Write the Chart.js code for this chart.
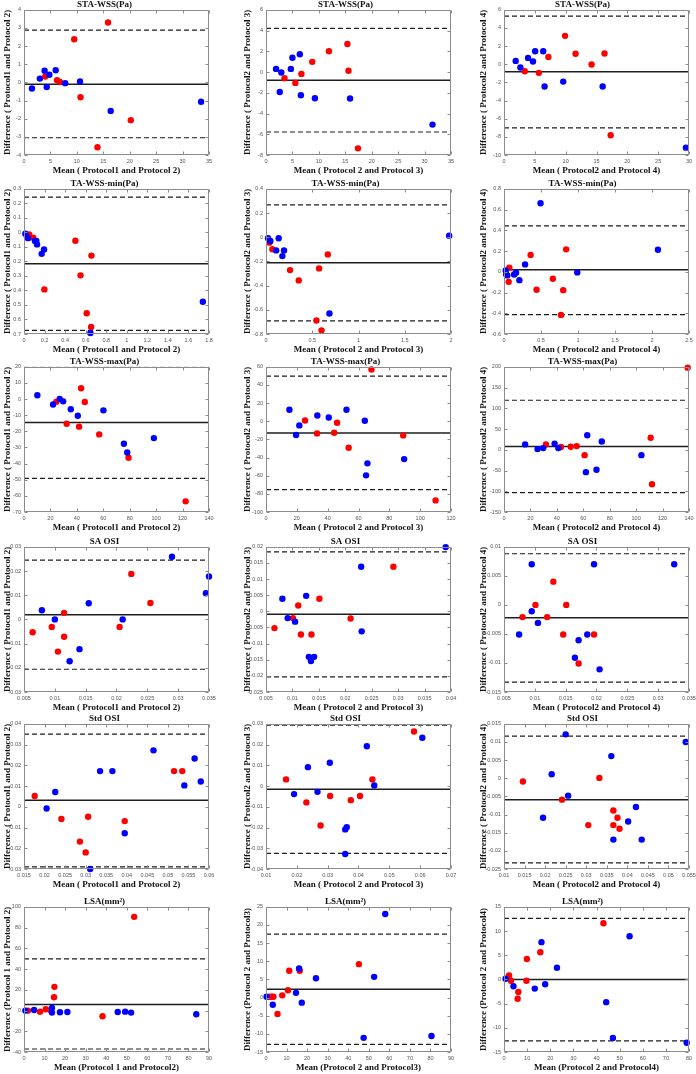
<!DOCTYPE html>
<html>
<head>
<meta charset="utf-8">
<script src="https://cdn.jsdelivr.net/npm/chart.js@4.4.0/dist/chart.umd.min.js"></script>
<style>
  html, body { margin: 0; padding: 0; background: #fff; overflow: hidden; }
  #page { position: relative; width: 696px; height: 1074px; overflow: hidden; }
  #page canvas { position: absolute; }
</style>
</head>
<body>
<div id="page"></div>
<script>
// Bland-Altman panels, row by row; columns: P1 vs P2, P2 vs P3, P2 vs P4
const rowTitles = ['STA-WSS(Pa)', 'TA-WSS-min(Pa)', 'TA-WSS-max(Pa)', 'SA OSI', 'Std OSI', 'LSA(mm²)'];

const yTitles = ['Difference ( Protocol1 and Protocol 2)', 'Difference ( Protocol2 and Protocol 3)', 'Difference ( Protocol2 and Protocol 4)'];
const xTitles = ['Mean ( Protocol1 and Protocol 2)', 'Mean ( Protocol 2 and Protocol 3)', 'Mean ( Protocol2 and Protocol 4)'];
const yTitlesLsa = ['Difference (Protocol 1 and Protocol 2)', 'Difference (Protocol 2 and Protocol3)', 'Difference (Protocol 2 and Protocol4)'];
const xTitlesLsa = ['Mean (Protocol 1 and Protocol2)', 'Mean (Protocol 2 and Protocol3)', 'Mean (Protocol 2 and Protocol4)'];

// STA-WSS
const sta12Blue = [[1.5,-0.34],[3.0,0.21],[3.9,0.64],[4.3,-0.25],[4.8,0.42],[6.0,0.67],[7.8,-0.04],[10.6,0.05],[16.4,-1.57],[33.5,-1.07]];
const sta12Red = [[4.0,0.32],[6.25,0.12],[6.8,0.03],[9.5,2.38],[10.7,-0.82],[15.9,3.30],[13.9,-3.57],[20.2,-2.08]];
const sta23Blue = [[1.9,0.3],[2.9,-0.05],[2.6,-1.92],[4.7,0.3],[5.0,1.37],[6.4,1.72],[6.6,-2.24],[9.25,-2.53],[15.9,-2.55],[31.5,-5.07]];
const sta23Red = [[3.5,-0.6],[5.56,-1.05],[6.7,-0.18],[8.75,0.98],[11.9,2.0],[15.4,2.7],[15.6,0.12],[17.4,-7.36]];
const sta24Blue = [[1.9,0.37],[2.66,-0.36],[3.9,0.7],[4.7,0.3],[5.05,1.44],[6.36,1.44],[6.58,-2.46],[9.6,-1.91],[16.0,-2.46],[29.5,-9.19]];
const sta24Red = [[3.37,-0.77],[5.65,-0.95],[7.2,0.81],[9.9,3.13],[11.6,1.15],[14.2,-0.03],[16.3,1.18],[17.3,-7.83]];

// TA-WSS-min
const min12Blue = [[0.013,-0.009],[0.03,-0.033],[0.04,-0.04],[0.107,-0.06],[0.12,-0.06],[0.127,-0.083],[0.172,-0.148],[0.195,-0.118],[0.646,-0.693],[1.74,-0.478]];
const min12Red = [[0.05,-0.014],[0.09,-0.037],[0.198,-0.393],[0.5,-0.058],[0.55,-0.296],[0.61,-0.557],[0.653,-0.651],[0.656,-0.16]];
const min23Blue = [[0.022,-0.009],[0.047,-0.031],[0.11,-0.109],[0.137,-0.009],[0.177,-0.156],[0.195,-0.109],[0.686,-0.631],[1.98,0.013]];
const min23Red = [[0.036,-0.045],[0.069,-0.1],[0.26,-0.272],[0.354,-0.357],[0.574,-0.258],[0.545,-0.689],[0.6,-0.77],[0.668,-0.142]];
const min24Blue = [[0.023,0.013],[0.03,-0.026],[0.045,-0.035],[0.136,-0.026],[0.163,-0.01],[0.208,-0.081],[0.285,0.071],[0.494,0.661],[0.99,-0.006],[2.08,0.213]];
const min24Red = [[0.072,0.039],[0.063,-0.097],[0.36,0.161],[0.44,-0.174],[0.66,-0.068],[0.84,0.216],[0.8,-0.177],[0.77,-0.416]];

// TA-WSS-max
const max12Blue = [[10.1,2.4],[22,-3.4],[27,0.1],[29.6,-1.4],[35.4,-6.3],[40.7,-10.3],[60.1,-7.0],[75.6,-27.7],[78.1,-33.1],[98.3,-24.2]];
const max12Red = [[24.5,-1.6],[32.3,-15.3],[41.7,-17.1],[43.2,6.7],[46,-1.8],[56.9,-21.9],[79.1,-36.4],[122.3,-63.4]];
const max23Blue = [[15.2,12.7],[19.5,-15.2],[21.6,-4.6],[33.3,6.4],[40.7,4.2],[52.2,12.7],[64.1,0.6],[65.8,-46.4],[64.9,-59.6],[89.6,-41.7]];
const max23Red = [[25.3,0.9],[33.1,-13.4],[44.2,-12.7],[46.1,-1.7],[53.6,-29.2],[68.4,57.1],[89,-15.6],[110,-87.2]];
const max24Blue = [[16,12.9],[25.4,1.6],[29.7,4],[38.3,14.5],[41.1,4],[62,-54],[63,35],[70,-48],[74,20],[104,-13]];
const max24Red = [[31.7,12.9],[43.1,6.5],[50.5,7.3],[55,8.9],[61,-13],[111,29],[112,-83],[139,198]];

// SA OSI
const sa12Blue = [[0.0079,0.0038],[0.01,0],[0.0124,-0.0173],[0.014,-0.0123],[0.0155,0.0067],[0.021,0],[0.029,0.0259],[0.0345,0.0108],[0.035,0.0177]];
const sa12Red = [[0.0064,-0.0053],[0.0095,-0.0031],[0.0105,-0.0133],[0.0115,0.0027],[0.0115,-0.0072],[0.0205,-0.0031],[0.0224,0.0188],[0.0255,0.0068]];
const sa23Blue = [[0.0081,0.0039],[0.0091,-0.0021],[0.0105,-0.0032],[0.0126,0.0048],[0.0131,-0.0141],[0.0135,-0.0154],[0.0141,-0.0141],[0.023,0.0138],[0.0231,-0.0062],[0.039,0.0199]];
const sa23Red = [[0.0066,-0.0052],[0.0101,-0.0021],[0.0111,0.0018],[0.0116,-0.0072],[0.0136,-0.0072],[0.0151,0.0039],[0.021,-0.0022],[0.0291,0.0138]];
const sa24Blue = [[0.00745,-0.0051],[0.0095,0.007],[0.0095,-0.0011],[0.0105,-0.0031],[0.0165,-0.0091],[0.0171,-0.0061],[0.0185,-0.0051],[0.0196,0.007],[0.0205,-0.0111],[0.0326,0.007]];
const sa24Red = [[0.008,-0.0021],[0.0101,0],[0.012,-0.0021],[0.013,0.004],[0.0146,-0.0051],[0.0151,0],[0.0171,-0.0101],[0.0196,-0.0051]];

// Std OSI
const std12Blue = [[0.0205,-0.0008],[0.0226,0.0071],[0.0311,-0.03],[0.0335,0.0172],[0.0365,0.0172],[0.0395,-0.0128],[0.0465,0.0272],[0.054,0.0103],[0.0565,0.0233],[0.058,0.0122]];
const std12Red = [[0.0176,0.0052],[0.0241,-0.0059],[0.0286,-0.0168],[0.03,-0.022],[0.0306,-0.0048],[0.0395,-0.0069],[0.0515,0.0172],[0.0535,0.0172]];
const std23Blue = [[0.0191,-0.0039],[0.0236,0.0091],[0.0267,-0.0028],[0.0307,0.0112],[0.0357,-0.0209],[0.0362,-0.0198],[0.0357,-0.0328],[0.0427,0.0192],[0.0451,0.0003],[0.0607,0.0233]];
const std23Red = [[0.0165,0.0032],[0.0231,-0.0079],[0.0277,-0.019],[0.0308,-0.0048],[0.0375,-0.0068],[0.0405,-0.0048],[0.0445,0.0032],[0.058,0.0263]];
const std24Blue = [[0.0195,-0.0109],[0.0216,0.0011],[0.025,0.0121],[0.0256,-0.0048],[0.0361,0.0061],[0.0366,-0.0169],[0.0402,-0.0119],[0.0421,-0.0079],[0.0435,-0.0169],[0.0542,0.01]];
const std24Red = [[0.0146,-0.0009],[0.0241,-0.0059],[0.0305,-0.0129],[0.0332,0.0001],[0.0366,-0.0089],[0.0366,-0.0129],[0.0376,-0.0109],[0.0381,-0.0139]];

// LSA
const lsa12Blue = [[0.65,-0.1],[4.9,0.55],[13.6,2.5],[13.6,-2.0],[17.5,-1.7],[21.1,-1.4],[45.6,-1.4],[49.2,-1.1],[52.1,-2.0],[83.8,-3.6]];
const lsa12Red = [[1.95,-0.1],[7.8,-1.1],[10.6,1.2],[13,0.2],[14.8,22.8],[14.6,12.8],[38.2,-5.6],[53.6,90.3]];
const lsa23Blue = [[0.3,0.2],[3.3,-2.0],[14.6,1.3],[16.1,8.0],[17.4,-1.4],[24.3,5.3],[47.5,-11.1],[52.6,5.7],[58,23.0],[80.5,-10.6]];
const lsa23Red = [[1.8,0.2],[2.8,0.2],[3.6,0.2],[5.6,-4.5],[7.9,0.6],[10.7,2.0],[11.3,7.4],[16.4,7.4],[45.2,9.2]];
const lsa24Blue = [[0.7,0.14],[4.1,-1.4],[13.3,-1.9],[16.2,7.7],[17.8,-1.0],[22.9,2.4],[44.2,-4.7],[47.1,-12.1],[54.3,8.9],[79,-13.1]];
const lsa24Red = [[2.2,0.83],[3,-0.28],[6.2,-2.6],[5.9,-4.0],[9.7,-0.28],[9.9,4.2],[15.7,5.6],[43,11.6]];

const bluePoints = [sta12Blue, sta23Blue, sta24Blue, min12Blue, min23Blue, min24Blue, max12Blue, max23Blue, max24Blue,
                    sa12Blue, sa23Blue, sa24Blue, std12Blue, std23Blue, std24Blue, lsa12Blue, lsa23Blue, lsa24Blue];
const redPoints = [sta12Red, sta23Red, sta24Red, min12Red, min23Red, min24Red, max12Red, max23Red, max24Red,
                   sa12Red, sa23Red, sa24Red, std12Red, std23Red, std24Red, lsa12Red, lsa23Red, lsa24Red];

// mean difference and limits of agreement
const meanDiff = [-0.1, -0.79, -0.84, -0.217, -0.211, 0.019, -14.6, -13.0, 8.1,
                  0.0019, -0.0009, -0.0022, 0.0031, -0.0016, -0.0059, 5.9, 2.3, 0];
const upperLoA = [2.88, 4.2, 5.3, 0.242, 0.267, 0.442, 19.8, 49.7, 119.4,
                  0.0245, 0.0184, 0.0088, 0.035, 0.0294, 0.0116, 49.8, 17.5, 12.6];
const lowerLoA = [-3.05, -5.78, -7.02, -0.675, -0.692, -0.413, -49.1, -75.4, -103.2,
                  -0.0206, -0.0203, -0.0133, -0.029, -0.0325, -0.0233, -37.1, -12.9, -12.7];

// axis ticks [min, max, step]
const xTicks = [[0,35,5],[0,35,5],[0,30,5],[0,1.8,0.2],[0,2,0.5],[0,2.5,0.5],[0,140,20],[0,120,20],[0,140,20],
                [0.005,0.035,0.005],[0.005,0.04,0.005],[0.005,0.035,0.005],[0.015,0.06,0.005],[0.01,0.07,0.01],[0.01,0.055,0.005],
                [0,90,10],[0,90,10],[0,80,10]];
const yTicks = [[-4,4,1],[-8,6,2],[-10,6,2],[-0.7,0.3,0.1],[-0.8,0.4,0.2],[-0.6,0.8,0.2],[-70,20,10],[-100,60,20],[-150,200,50],
                [-0.03,0.03,0.01],[-0.025,0.02,0.005],[-0.015,0.01,0.005],[-0.03,0.04,0.01],[-0.04,0.03,0.01],[-0.025,0.015,0.005],
                [-40,100,20],[-15,25,5],[-15,15,5]];

// layout of the grid
const plotLeft = [24, 266, 504];
const axisW = [24, 26, 28];
const plotTop = [10, 189, 367, 547, 724, 907];
const plotW = 185;

const fmt = v => String(parseFloat(v.toFixed(6)));

// MATLAB-like box with inward ticks
const framePlugin = {
    id: 'frame',
    afterDatasetsDraw(chart) {
        const {ctx, chartArea: a} = chart;
        const x = chart.scales.x, y = chart.scales.y;
        const l = Math.round(a.left) + 0.5, r = Math.round(a.right) - 0.5;
        const t = Math.round(a.top) + 0.5, b = Math.round(a.bottom) - 0.5;
        ctx.save();
        ctx.strokeStyle = '#8c8c8c';
        ctx.lineWidth = 1;
        ctx.setLineDash([]);
        ctx.beginPath();
        ctx.rect(l, t, r - l, b - t);
        x.ticks.forEach(tk => {
            const px = Math.round(x.getPixelForValue(tk.value)) + 0.5;
            ctx.moveTo(px, b); ctx.lineTo(px, b - 3);
            ctx.moveTo(px, t); ctx.lineTo(px, t + 3);
        });
        y.ticks.forEach(tk => {
            const py = Math.round(y.getPixelForValue(tk.value)) + 0.5;
            ctx.moveTo(l, py); ctx.lineTo(l + 3, py);
            ctx.moveTo(r, py); ctx.lineTo(r - 3, py);
        });
        ctx.stroke();
        ctx.restore();
    }
};

const tickFont = {family: 'Liberation Sans', size: 5.5};
const textFont = {family: 'Liberation Serif', size: 9, weight: 'bold'};

function hLine(value, xr, dashed) {
    return {
        type: 'line',
        data: [{x: xr[0], y: value}, {x: xr[1], y: value}],
        borderColor: '#1e1e1e',
        borderWidth: dashed ? 1.2 : 1.5,
        borderDash: dashed ? [5, 3] : [],
        pointRadius: 0
    };
}

function dots(points, color) {
    return {
        data: points.map(([x, y]) => ({x, y})),
        backgroundColor: color,
        borderWidth: 0,
        pointRadius: 3.2,
        clip: false
    };
}

window.onload = () => {
    const page = document.getElementById('page');
    for (let i = 0; i < 18; i++) {
        const row = Math.floor(i / 3), col = i % 3;
        const xr = xTicks[i], yr = yTicks[i];
        const canvas = document.createElement('canvas');
        canvas.width = axisW[col] + plotW + 12;
        canvas.height = 179;
        canvas.style.left = (plotLeft[col] - axisW[col]) + 'px';
        canvas.style.top = (plotTop[row] - 11) + 'px';
        page.appendChild(canvas);

        const yLabel = row === 5 ? yTitlesLsa[col] : yTitles[col];
        const xLabel = row === 5 ? xTitlesLsa[col] : xTitles[col];

        new Chart(canvas, {
            type: 'scatter',
            data: {
                datasets: [
                    dots(bluePoints[i], '#0000ff'),
                    dots(redPoints[i], '#ff0000'),
                    hLine(meanDiff[i], xr, false),
                    hLine(upperLoA[i], xr, true),
                    hLine(lowerLoA[i], xr, true)
                ]
            },
            options: {
                responsive: false,
                devicePixelRatio: 1,
                animation: false,
                layout: {padding: {left: 0, right: 12, top: 0, bottom: 0}},
                plugins: {
                    legend: {display: false},
                    tooltip: {enabled: false},
                    title: {
                        display: true,
                        text: rowTitles[row],
                        color: '#111',
                        font: textFont,
                        padding: {top: 0, bottom: 0}
                    }
                },
                scales: {
                    x: {
                        type: 'linear',
                        min: xr[0], max: xr[1],
                        grid: {display: false, drawTicks: false},
                        border: {display: false},
                        ticks: {stepSize: xr[2], autoSkip: false, maxRotation: 0, padding: 3,
                                color: '#555', font: tickFont, callback: v => fmt(v)},
                        title: {display: true, text: xLabel, color: '#111', font: textFont, padding: {top: 0, bottom: 1.6}},
                        afterFit: s => { s.height = 23; }
                    },
                    y: {
                        type: 'linear',
                        min: yr[0], max: yr[1],
                        grid: {display: false, drawTicks: false},
                        border: {display: false},
                        ticks: {stepSize: yr[2], autoSkip: false, padding: 3,
                                color: '#555', font: tickFont,
                                // the TA-WSS-min P1/P2 panel shows its labels without a minus sign
                                callback: v => i === 3 ? fmt(Math.abs(v)) : fmt(v)},
                        title: {display: true, text: yLabel, color: '#111', font: textFont, padding: {top: 2, bottom: 0}},
                        afterFit: s => { s.width = axisW[col]; }
                    }
                }
            },
            plugins: [framePlugin]
        });
    }
};
</script>
</body>
</html>
